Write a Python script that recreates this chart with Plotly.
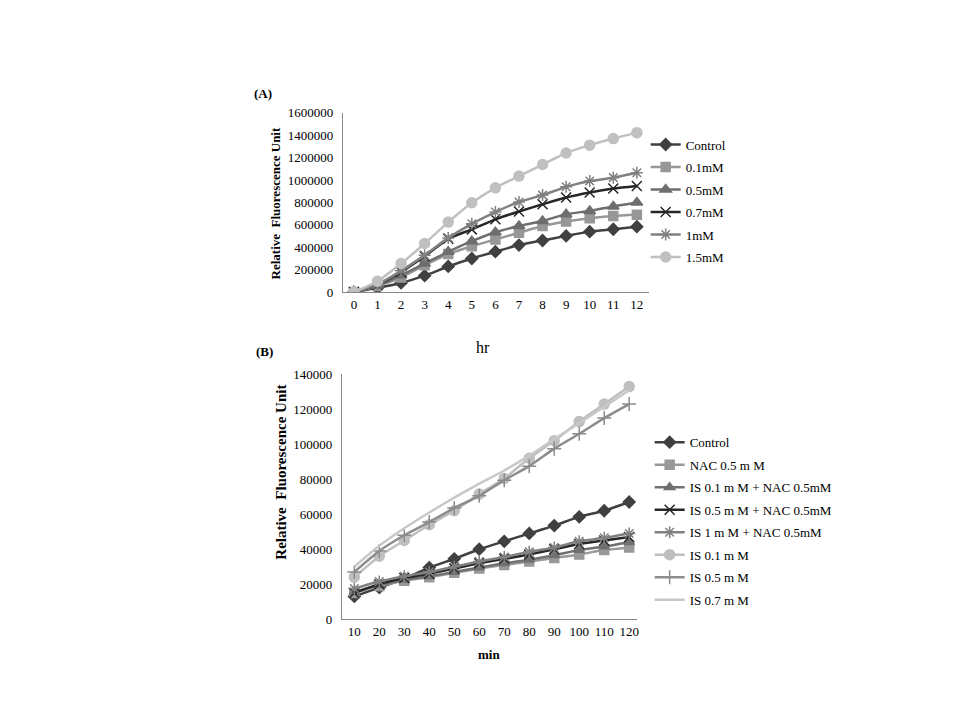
import plotly.graph_objects as go

# ---------------- Data ----------------
hours = ["0", "1", "2", "3", "4", "5", "6", "7", "8", "9", "10", "11", "12"]
a_names = ["Control", "0.1mM", "0.5mM", "0.7mM", "1mM", "1.5mM"]
a_control = [0, 38000, 82000, 147000, 229000, 300000, 361000, 420000, 461000, 502000, 540000, 561000, 584000]
a_01 = [0, 55000, 130000, 240000, 340000, 410000, 470000, 530000, 590000, 630000, 660000, 680000, 690000]
a_05 = [0, 60000, 150000, 255000, 360000, 455000, 535000, 590000, 635000, 695000, 725000, 765000, 800000]
a_07 = [0, 65000, 180000, 320000, 476000, 560000, 650000, 720000, 784000, 845000, 890000, 925000, 948000]
a_1 = [0, 70000, 190000, 330000, 484000, 610000, 715000, 805000, 866000, 940000, 992000, 1022000, 1066000]
a_15 = [0, 97000, 255000, 434000, 625000, 798000, 931000, 1036000, 1139000, 1242000, 1312000, 1371000, 1424000]
a_series = [a_control, a_01, a_05, a_07, a_1, a_15]

minutes = ["10", "20", "30", "40", "50", "60", "70", "80", "90", "100", "110", "120"]
b_names = ["Control", "NAC 0.5 m M", "IS 0.1 m M + NAC 0.5mM", "IS 0.5 m M + NAC 0.5mM",
           "IS 1 m M + NAC 0.5mM", "IS 0.1 m M", "IS 0.5 m M", "IS 0.7 m M"]
b_control = [13000, 18000, 23000, 29500, 34500, 40000, 44500, 49000, 53500, 58500, 62000, 67000]
b_nac = [15000, 19000, 22000, 24000, 26500, 29000, 31000, 33000, 35000, 37000, 39500, 41000]
b_is01_nac = [15500, 19500, 22500, 24500, 27000, 29500, 32000, 34000, 36500, 39500, 41500, 44000]
b_is05_nac = [15000, 20000, 23500, 26000, 29000, 32000, 34500, 37000, 40000, 43000, 45000, 47000]
b_is1_nac = [17500, 21500, 24500, 27000, 30000, 33000, 35500, 38500, 41000, 44500, 46500, 49000]
b_is01 = [24000, 36000, 45000, 54000, 62000, 71500, 80500, 92000, 102000, 113000, 123000, 133000]
b_is05 = [27000, 39000, 48000, 55500, 63500, 70500, 79500, 87500, 97500, 106000, 115000, 123000]
b_is07 = [30000, 42000, 52000, 61000, 69500, 77500, 85000, 93500, 103000, 112000, 121500, 131000]
b_series = [b_control, b_nac, b_is01_nac, b_is05_nac, b_is1_nac, b_is01, b_is05, b_is07]

# ---------------- Styles ----------------
a_colors = ["#404040", "#979797", "#6e6e6e", "#262626", "#808080", "#c0c0c0"]
a_symbols = ["diamond", "square", "triangle-up", "x-thin-open", "asterisk-open", "circle"]
a_sizes = [9, 9, 10, 10, 10, 10]

b_colors = ["#404040", "#999999", "#707070", "#262626", "#808080", "#bfbfbf", "#8c8c8c", "#c8c8c8"]
b_symbols = ["diamond", "square", "triangle-up", "x-thin-open", "asterisk-open", "circle", "cross-thin-open", None]
b_sizes = [9, 9, 9, 10, 10, 10, 10, 0]

FONT = "Liberation Serif"
fig = go.Figure()


def add_trace(x, y, name, color, symbol, size, xa, ya, legend):
    mode = "lines+markers" if symbol else "lines"
    marker = dict(symbol=symbol or "circle", size=size, color=color,
                  line=dict(color=color, width=1.5))
    fig.add_trace(go.Scatter(x=x, y=y, name=name, mode=mode,
                             line=dict(color=color, width=2.5, shape="spline", smoothing=0.6),
                             marker=marker, xaxis=xa, yaxis=ya, legend=legend,
                             legendgroup=legend + name))


for n, s, c, sym, sz in zip(a_names, a_series, a_colors, a_symbols, a_sizes):
    add_trace(hours, s, n, c, sym, sz, "x", "y", "legend")
for n, s, c, sym, sz in zip(b_names, b_series, b_colors, b_symbols, b_sizes):
    add_trace(minutes, s, n, c, sym, sz, "x2", "y2", "legend2")

W, H = 960, 720
OFF = 8  # page offset of the plot in the browser window


def px(x):
    return (x - OFF) / W


def py(y):
    return 1 - (y - OFF) / H


axis_common = dict(showgrid=False, zeroline=False, showline=True, linecolor="#868686",
                   linewidth=1, ticks="", tickfont=dict(family=FONT, size=13, color="#000000"))

fig.update_layout(
    width=W, height=H,
    margin=dict(l=0, r=0, t=0, b=0),
    paper_bgcolor="white", plot_bgcolor="white",
    font=dict(family=FONT, color="#000000"),
    xaxis=dict(domain=[px(344), px(650)], type="category", range=[-0.45, 12.5],
               anchor="y", **axis_common),
    yaxis=dict(domain=[py(291), py(108)], range=[0, 1600000], dtick=200000,
               tickformat="d", anchor="x", ticksuffix="  ", **axis_common),
    xaxis2=dict(domain=[px(343), px(638)], type="category", range=[-0.48, 11.3],
                anchor="y2", **axis_common),
    yaxis2=dict(domain=[py(625), py(375)], range=[0, 140000], dtick=20000,
                tickformat="d", anchor="x2", ticksuffix="  ", **axis_common),
    legend=dict(x=px(647), y=py(125), xanchor="left", yanchor="top",
                font=dict(family=FONT, size=13, color="#000000"),
                bgcolor="rgba(0,0,0,0)", itemwidth=30, tracegroupgap=2.6),
    legend2=dict(x=px(651), y=py(429), xanchor="left", yanchor="top",
                 font=dict(family=FONT, size=13, color="#000000"),
                 bgcolor="rgba(0,0,0,0)", itemwidth=30, tracegroupgap=2.6),
    showlegend=True,
)

annotations = [
    dict(text="<b>(A)</b>", x=px(264), y=py(88), font=dict(size=13)),
    dict(text="<b>(B)</b>", x=px(265), y=py(352), font=dict(size=13)),
    dict(text="hr", x=px(484), y=py(348), font=dict(size=16)),
    dict(text="<b>min</b>", x=px(490), y=py(661), font=dict(size=13)),
    dict(text="<b>Relative  Fluorescence Unit</b>", x=px(277), y=py(200), textangle=-90,
         font=dict(size=13)),
    dict(text="<b>Relative  Fluorescence Unit</b>", x=px(282), y=py(475), textangle=-90,
         font=dict(size=15)),
]
for a in annotations:
    a.update(xref="paper", yref="paper", showarrow=False, xanchor="center", yanchor="middle")
    a["font"].update(family=FONT, color="#000000")
fig.update_layout(annotations=annotations)

fig.write_html("out.html")
